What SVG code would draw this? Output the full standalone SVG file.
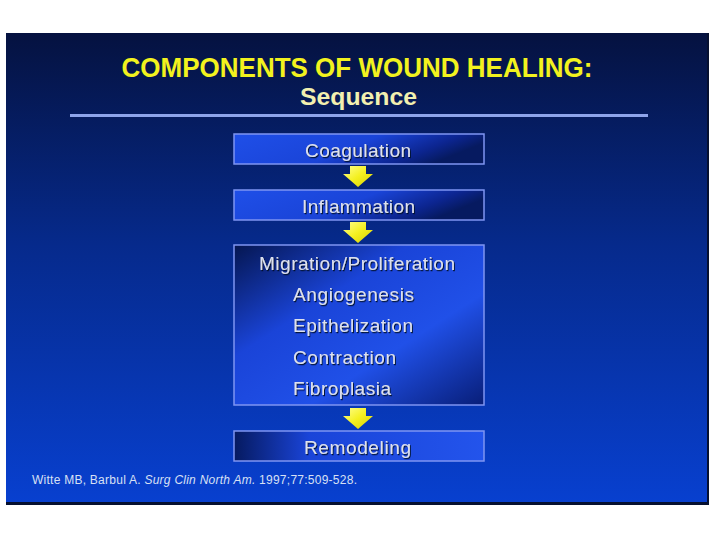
<svg xmlns="http://www.w3.org/2000/svg" width="720" height="540" viewBox="0 0 720 540">
  <defs>
    <linearGradient id="bg" x1="0" y1="0" x2="0" y2="1">
      <stop offset="0" stop-color="#051240"/>
      <stop offset="0.45" stop-color="#062a8c"/>
      <stop offset="1" stop-color="#0840d0"/>
    </linearGradient>
    <linearGradient id="boxA" x1="0" y1="0" x2="1" y2="0.3">
      <stop offset="0" stop-color="#1f4fe8"/>
      <stop offset="0.55" stop-color="#1a44d8"/>
      <stop offset="0.85" stop-color="#0c2590"/>
      <stop offset="1" stop-color="#061a60"/>
    </linearGradient>
    <linearGradient id="boxB" x1="0" y1="0" x2="1" y2="1">
      <stop offset="0" stop-color="#051650"/>
      <stop offset="0.35" stop-color="#1a44d8"/>
      <stop offset="0.65" stop-color="#2050e8"/>
      <stop offset="1" stop-color="#081e78"/>
    </linearGradient>
    <linearGradient id="boxC" x1="0" y1="0" x2="1" y2="0">
      <stop offset="0" stop-color="#061a60"/>
      <stop offset="0.3" stop-color="#1a44d8"/>
      <stop offset="1" stop-color="#2354ec"/>
    </linearGradient>
    <linearGradient id="arr" x1="0" y1="0" x2="1" y2="1">
      <stop offset="0" stop-color="#ffff90"/>
      <stop offset="0.5" stop-color="#f4f020"/>
      <stop offset="1" stop-color="#d8d000"/>
    </linearGradient>
    <filter id="sh" x="-5%" y="-20%" width="110%" height="150%">
      <feDropShadow dx="1" dy="1.2" stdDeviation="0.6" flood-color="#000820" flood-opacity="0.9"/>
    </filter>
    <path id="arrow" d="M-8,0 H8 V8 H15 L0,21 L-15,8 H-8 Z"/>
  </defs>
  <style>
    .box { stroke: #7f95f2; stroke-width: 1.5; }
    .lbl { font-family: "Liberation Sans", Arial, sans-serif; font-size: 19px; fill: #dde1ee; filter: url(#sh); }
    .title { font-family: "Liberation Sans", Arial, sans-serif; font-weight: bold; }
    .cite { font-family: "Liberation Sans", Arial, sans-serif; font-size: 12px; fill: #d8e0f4; }
  </style>

  <rect x="0" y="0" width="720" height="540" fill="#ffffff"/>
  <rect x="6" y="33" width="703" height="472" fill="url(#bg)"/>
  <rect x="6" y="502" width="703" height="3" fill="#061030"/>
  <rect x="707" y="33" width="2" height="472" fill="#061030"/>

  <g id="title">
    <text class="title" x="357" y="77" text-anchor="middle" font-size="27.5" fill="#f2f21e" textLength="471" lengthAdjust="spacingAndGlyphs">COMPONENTS OF WOUND HEALING:</text>
    <text class="title" x="358.5" y="105" text-anchor="middle" font-size="24" fill="#f2f0b0" textLength="117" lengthAdjust="spacingAndGlyphs">Sequence</text>
    <rect x="70" y="114" width="578" height="3" fill="#8ea4ea"/>
  </g>

  <g id="coagulation">
    <rect class="box" x="234" y="134" width="250" height="30" fill="url(#boxA)"/>
    <text class="lbl" x="358" y="157" text-anchor="middle" textLength="106">Coagulation</text>
  </g>
  <g id="inflammation">
    <rect class="box" x="234" y="190" width="250" height="30" fill="url(#boxA)"/>
    <text class="lbl" x="358.5" y="213" text-anchor="middle" textLength="113">Inflammation</text>
  </g>
  <g id="proliferation">
    <rect class="box" x="234" y="245" width="250" height="160" fill="url(#boxB)"/>
    <text class="lbl" x="357" y="270" text-anchor="middle" textLength="196">Migration/Proliferation</text>
    <text class="lbl" x="293" y="301" textLength="121">Angiogenesis</text>
    <text class="lbl" x="293" y="332" textLength="120">Epithelization</text>
    <text class="lbl" x="293" y="364" textLength="103">Contraction</text>
    <text class="lbl" x="293" y="395" textLength="98">Fibroplasia</text>
  </g>
  <g id="remodeling">
    <rect class="box" x="234" y="431" width="250" height="30" fill="url(#boxC)"/>
    <text class="lbl" x="357.5" y="454" text-anchor="middle" textLength="107">Remodeling</text>
  </g>

  <g id="connectors" fill="url(#arr)">
    <use href="#arrow" x="358" y="166"/>
    <use href="#arrow" x="358" y="222"/>
    <use href="#arrow" x="358" y="408"/>
  </g>

  <g id="citation">
    <text class="cite" x="32" y="484" textLength="325">Witte MB, Barbul A.  <tspan font-style="italic">Surg Clin North Am.</tspan> 1997;77:509-528.</text>
  </g>
</svg>
